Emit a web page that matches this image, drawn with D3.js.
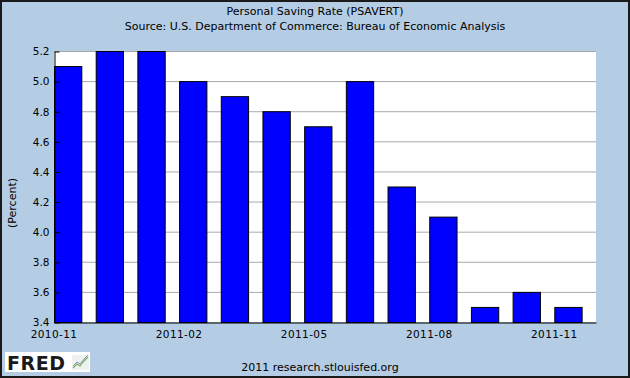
<!DOCTYPE html>
<html>
  <head>
    <meta charset="UTF-8" />
    <script src="https://d3js.org/d3.v7.min.js"></script>
    <style>
      body { margin: 0; }
      text { font-family: "DejaVu Sans", sans-serif; }
    </style>
  </head>
  <body>
    <div id="chart"></div>
    <script>
      // monthly personal saving rate, percent
      var months = ["2010-11", "2010-12", "2011-01", "2011-02", "2011-03", "2011-04", "2011-05",
                    "2011-06", "2011-07", "2011-08", "2011-09", "2011-10", "2011-11"];
      var rates = [5.1, 5.2, 5.2, 5.0, 4.9, 4.8, 4.7, 5.0, 4.3, 4.1, 3.5, 3.6, 3.5];
      var yTicks = [3.4, 3.6, 3.8, 4.0, 4.2, 4.4, 4.6, 4.8, 5.0, 5.2];
      var xLabels = ["2010-11", "2011-02", "2011-05", "2011-08", "2011-11"];

      var W = 630, H = 378;
      var margin = { top: 51, right: 34, bottom: 56, left: 54 },
        width = W - margin.left - margin.right,
        height = H - margin.top - margin.bottom;

      var svg = d3.select("#chart").append("svg")
        .attr("width", W)
        .attr("height", H);

      svg.append("rect")
        .attr("x", 1).attr("y", 1)
        .attr("width", W - 2).attr("height", H - 2)
        .attr("fill", "#b4cde4")
        .attr("stroke", "#1a1a1a")
        .attr("stroke-width", 2);

      svg.append("text")
        .attr("x", W / 2).attr("y", 15)
        .attr("text-anchor", "middle")
        .attr("font-size", 11)
        .text("Personal Saving Rate (PSAVERT)");
      svg.append("text")
        .attr("x", W / 2).attr("y", 29.5)
        .attr("text-anchor", "middle")
        .attr("font-size", 11)
        .text("Source: U.S. Department of Commerce: Bureau of Economic Analysis");

      var g = svg.append("g")
        .attr("transform", "translate(" + margin.left + "," + margin.top + ")");

      var x = d3.scaleBand()
        .domain(months)
        .range([0, width])
        .paddingInner(0.345)
        .paddingOuter(0.1725)
        .align(0);
      var y = d3.scaleLinear().domain([3.4, 5.2]).range([height, 0]);

      g.append("rect")
        .attr("width", width).attr("height", height)
        .attr("fill", "#fff");

      // grid
      g.append("g")
        .selectAll("line")
        .data(yTicks.slice(1))
        .join("line")
        .attr("x1", 0).attr("x2", width)
        .attr("y1", d => y(d) + 0.5).attr("y2", d => y(d) + 0.5)
        .attr("stroke", "#a9a9a9");

      g.append("g")
        .selectAll("rect")
        .data(rates)
        .join("rect")
        .attr("x", (d, i) => x(months[i]) + 0.5)
        .attr("y", d => y(d) + 0.5)
        .attr("width", x.bandwidth())
        .attr("height", d => height - y(d))
        .attr("fill", "#0000ff")
        .attr("stroke", "#000")
        .attr("stroke-width", 1);

      var yAxis = d3.axisLeft(y)
        .tickValues(yTicks)
        .tickFormat(d3.format(".1f"))
        .tickSizeInner(-5)
        .tickSizeOuter(0)
        .tickPadding(5);
      var ya = g.append("g").attr("transform", "translate(0.5,0.5)").call(yAxis);
      ya.selectAll("text").attr("font-size", 10.5).attr("fill", "#000");
      ya.selectAll("line").attr("stroke", "#000");
      ya.select(".domain").attr("stroke", "#000");

      var xAxis = d3.axisBottom(x)
        .tickValues(xLabels)
        .tickSize(0)
        .tickSizeOuter(0)
        .tickPadding(8.5);
      var xa = g.append("g").attr("transform", "translate(0," + (height + 0.5) + ")").call(xAxis);
      xa.selectAll(".tick").attr("transform", d => "translate(" + x(d) + ",0)");
      xa.selectAll("text").attr("font-size", 10.5).attr("fill", "#000")
        .attr("letter-spacing", 0.4);
      xa.select(".domain").attr("stroke", "#000");

      svg.append("text")
        .attr("transform", "translate(16,203) rotate(-90)")
        .attr("text-anchor", "middle")
        .attr("font-size", 11)
        .text("(Percent)");

      svg.append("text")
        .attr("x", 320).attr("y", 371)
        .attr("text-anchor", "middle")
        .attr("font-size", 11)
        .text("2011 research.stlouisfed.org");

      // FRED logo
      var logo = svg.append("g").attr("transform", "translate(5,352)");
      logo.append("rect").attr("width", 85).attr("height", 20).attr("fill", "#fff");
      logo.append("text")
        .attr("x", 2).attr("y", 18)
        .attr("font-size", 19)
        .attr("font-weight", "bold")
        .attr("font-family", "'Liberation Sans', sans-serif")
        .attr("fill", "#1a1a1a")
        .attr("textLength", 58)
        .text("FRED");
      logo.append("rect").attr("x", 67).attr("y", 3).attr("width", 17).attr("height", 15)
        .attr("fill", "#eef2ee");
      logo.append("polyline")
        .attr("points", "68,16 72,12 75,14 79,9 83,5")
        .attr("fill", "none").attr("stroke", "#7fae5a").attr("stroke-width", 1.2);
      logo.append("polyline")
        .attr("points", "68,14 72,10 75,12 79,7 83,3")
        .attr("fill", "none").attr("stroke", "#7f95c8").attr("stroke-width", 1);
    </script>
  </body>
</html>
